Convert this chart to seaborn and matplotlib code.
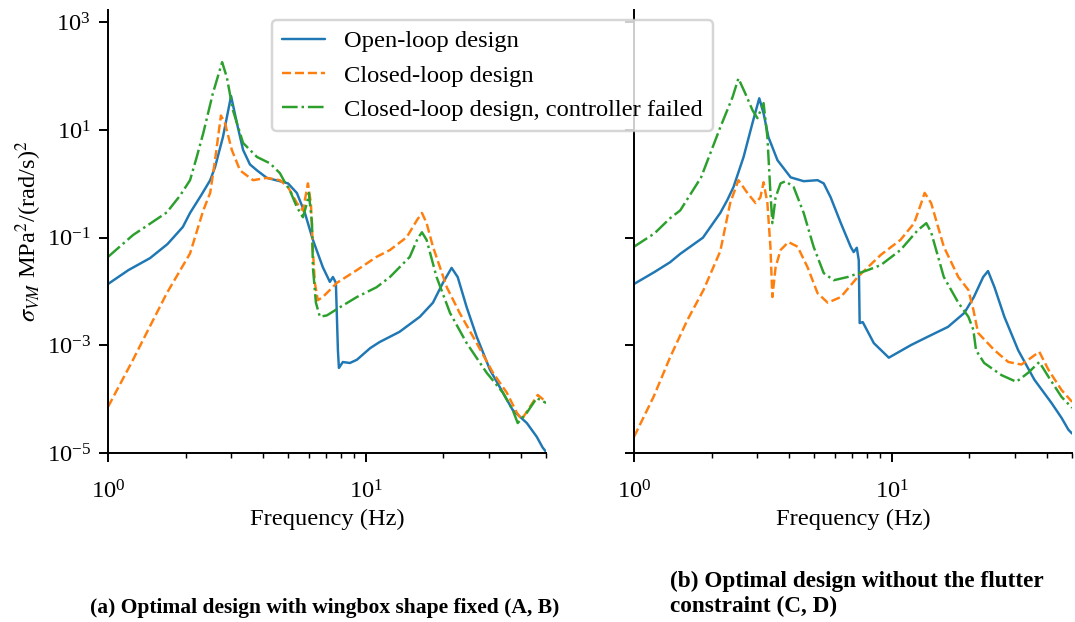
import numpy as np
import matplotlib
matplotlib.use("Agg")
import matplotlib.pyplot as plt
import matplotlib.ticker as mticker
import seaborn as sns

# ---- data (frequency in Hz, PSD in MPa^2/(rad/s)^2) ----
# (a) wingbox shape fixed
freq_a_open = [1.0, 1.2, 1.455, 1.7, 1.95, 2.08, 2.3, 2.49, 2.60, 2.79, 3.0, 3.16, 3.34,
               3.55, 3.78, 4.13, 4.64, 4.99, 5.40, 5.80, 6.23, 6.81, 7.25, 7.45, 7.65,
               7.79, 7.86, 8.14, 8.67, 9.23, 10.4, 11.3, 13.5, 16.2, 18.2, 19.9, 21.5,
               22.7, 24.6, 26.9, 30.3, 34.0, 37.1, 42.1, 46.0, 48.5, 50.0]
psd_a_open = [1.38e-2, 2.5e-2, 4.17e-2, 7.6e-2, 0.158, 0.288, 0.62, 1.17, 2.04, 7.4, 42.7,
              13.5, 4.27, 2.3, 1.78, 1.29, 1.12, 1.02, 0.676, 0.288, 0.0912, 0.0282,
              0.0151, 0.0186, 0.0145, 8.1e-4, 3.8e-4, 4.9e-4, 4.7e-4, 5.4e-4, 8.9e-4,
              1.15e-3, 1.78e-3, 3.4e-3, 6.2e-3, 1.45e-2, 2.75e-2, 1.86e-2, 5.1e-3,
              1.45e-3, 3.5e-4, 1.32e-4, 6.3e-5, 3.6e-5, 2.0e-5, 1.26e-5, 1.05e-5]

freq_a_closed = [1.0, 1.25, 1.45, 1.69, 2.08, 2.34, 2.49, 2.60, 2.74, 2.84, 3.02, 3.25,
                 3.65, 4.13, 4.64, 4.99, 5.40, 5.70, 5.96, 6.12, 6.23, 6.34, 6.51, 6.81,
                 7.72, 9.23, 11.0, 12.4, 14.4, 15.8, 16.5, 17.2, 18.2, 20.6, 23.1, 26.9,
                 31.1, 35.2, 38.5, 40.2, 42.5, 46.4, 50.0]
psd_a_closed = [7.2e-5, 5.4e-4, 2.2e-3, 9.3e-3, 5.1e-2, 0.32, 0.68, 2.75, 18.6, 13.5, 4.27,
                1.78, 1.17, 1.29, 1.17, 0.87, 0.44, 0.32, 1.02, 0.44, 0.059, 0.0145, 6.9e-3,
                7.9e-3, 0.0145, 0.025, 0.044, 0.059, 0.102, 0.214, 0.288, 0.186, 0.068,
                0.012, 4.0e-3, 1.10e-3, 3.1e-4, 1.32e-4, 5.6e-5, 4.2e-5, 6.3e-5, 1.20e-4,
                8.9e-5]

freq_a_failed = [1.0, 1.25, 1.45, 1.69, 1.9, 2.08, 2.21, 2.34, 2.55, 2.77, 2.89, 3.05,
                 3.34, 3.78, 4.25, 4.64, 4.85, 5.07, 5.40, 5.70, 5.91, 6.01, 6.18, 6.23,
                 6.40, 6.63, 7.06, 7.93, 9.23, 11.0, 12.4, 14.8, 15.9, 16.5, 17.2, 18.8,
                 21.2, 24.6, 29.4, 34.0, 37.1, 38.8, 42.1, 46.0, 50.0]
psd_a_failed = [0.044, 0.112, 0.18, 0.295, 0.6, 1.17, 3.2, 8.7, 47.9, 182.0, 95.0, 23.4,
                5.75, 3.16, 2.40, 1.58, 1.07, 0.76, 0.37, 0.24, 0.44, 0.68, 0.186, 0.0282,
                6.2e-3, 3.4e-3, 3.6e-3, 5.1e-3, 7.9e-3, 0.012, 0.0186, 0.044, 0.098, 0.126,
                0.091, 0.0186, 4.0e-3, 1.10e-3, 3.1e-4, 1.32e-4, 6.3e-5, 3.6e-5, 5.6e-5,
                1.05e-4, 8.5e-5]

# (b) without the flutter constraint
freq_b_open = [1.0, 1.2, 1.38, 1.51, 1.85, 2.16, 2.30, 2.43, 2.66, 2.88, 3.06, 3.18, 3.32,
               3.60, 4.05, 4.55, 5.15, 5.44, 5.79, 6.34, 6.92, 7.11, 7.31, 7.44, 7.50,
               7.71, 8.51, 9.73, 11.9, 13.8, 16.5, 19.1, 20.8, 22.6, 23.6, 25.0, 27.3,
               30.9, 35.7, 41.6, 45.5, 48.4, 50.0]
psd_b_open = [1.38e-2, 2.3e-2, 3.5e-2, 5.0e-2, 0.10, 0.288, 0.5, 0.87, 3.16, 13.5, 38.9,
              20.4, 7.4, 2.75, 1.32, 1.12, 1.17, 1.02, 0.56, 0.186, 0.068, 0.054, 0.065,
              0.038, 2.6e-3, 2.7e-3, 1.10e-3, 5.9e-4, 1.02e-3, 1.45e-3, 2.2e-3, 4.0e-3,
              7.9e-3, 0.0186, 0.024, 0.012, 3.4e-3, 8.1e-4, 2.3e-4, 8.5e-5, 4.5e-5,
              2.7e-5, 2.3e-5]

freq_b_closed = [1.0, 1.19, 1.38, 1.61, 1.86, 2.16, 2.36, 2.54, 2.75, 2.96, 3.09, 3.18,
                 3.29, 3.38, 3.44, 3.54, 3.70, 3.97, 4.31, 4.71, 5.15, 5.64, 6.34, 7.37,
                 9.06, 10.8, 12.2, 13.0, 13.4, 14.2, 15.9, 18.1, 19.8, 20.7, 21.6, 25.0,
                 28.3, 31.8, 34.7, 37.3, 40.5, 45.5, 50.0]
psd_b_closed = [2.0e-5, 1.10e-4, 6.0e-4, 2.95e-3, 1.07e-2, 5.6e-2, 0.44, 1.17, 0.68, 0.44,
                0.56, 1.07, 0.44, 0.068, 7.9e-3, 0.0282, 0.059, 0.083, 0.068, 0.0282,
                9.3e-3, 6.2e-3, 7.9e-3, 0.0186, 0.048, 0.091, 0.186, 0.44, 0.68, 0.44,
                0.068, 0.0186, 0.0107, 4.6e-3, 1.70e-3, 8.1e-4, 4.9e-4, 4.4e-4, 5.9e-4,
                7.6e-4, 3.5e-4, 1.48e-4, 8.9e-5]

freq_b_failed = [1.0, 1.2, 1.38, 1.51, 1.82, 2.16, 2.41, 2.54, 2.70, 2.88, 3.01, 3.18,
                 3.29, 3.38, 3.44, 3.54, 3.70, 3.87, 4.16, 4.55, 4.97, 5.44, 5.95, 6.74,
                 8.07, 9.06, 10.8, 12.6, 13.6, 14.2, 15.9, 18.1, 19.8, 20.7, 21.2, 22.8,
                 26.6, 30.4, 33.8, 37.3, 40.5, 45.5, 50.0]
psd_b_failed = [0.068, 0.12, 0.23, 0.32, 1.32, 11.2, 40.7, 91.0, 47.9, 23.4, 16.6, 31.6,
                7.4, 0.68, 0.186, 0.56, 1.02, 1.12, 0.87, 0.288, 0.068, 0.022, 0.0162,
                0.0186, 0.025, 0.031, 0.059, 0.138, 0.186, 0.126, 0.0186, 6.2e-3, 3.4e-3,
                1.95e-3, 8.1e-4, 4.7e-4, 2.8e-4, 2.1e-4, 3.1e-4, 4.9e-4, 2.6e-4, 1.10e-4,
                6.9e-5]

labels = ["Open-loop design", "Closed-loop design",
          "Closed-loop design, controller failed"]
captions = ["(a) Optimal design with wingbox shape fixed (A, B)",
            "(b) Optimal design without the flutter\nconstraint (C, D)"]

# ---- style ----
sns.set_style("ticks")
plt.rcParams["font.family"] = ["Liberation Serif", "DejaVu Serif"]
plt.rcParams["mathtext.fontset"] = "stix"
plt.rcParams["font.size"] = 10
for key in ["text.color", "axes.labelcolor", "xtick.color", "ytick.color",
            "axes.edgecolor"]:
    plt.rcParams[key] = "black"
plt.rcParams["xtick.major.size"] = 3.5
plt.rcParams["ytick.major.size"] = 3.5
plt.rcParams["xtick.minor.size"] = 2
plt.rcParams["xtick.major.pad"] = 7.5
plt.rcParams["xtick.minor.pad"] = 7.5
plt.rcParams["axes.linewidth"] = 0.8

colors = ["#1f77b4", "#ff7f0e", "#2ca02c"]
styles = ["-", "--", "-."]

fig = plt.figure(figsize=(1075 / 176, 622 / 176), dpi=176)
ax_a = fig.add_axes([0.1005, 0.2717, 0.4075, 0.7123])
ax_b = fig.add_axes([0.5898, 0.2717, 0.4075, 0.7123], sharey=ax_a)

panels = [
    (ax_a, [(freq_a_open, psd_a_open), (freq_a_closed, psd_a_closed),
            (freq_a_failed, psd_a_failed)]),
    (ax_b, [(freq_b_open, psd_b_open), (freq_b_closed, psd_b_closed),
            (freq_b_failed, psd_b_failed)]),
]

for ax, series in panels:
    for (f, p), lab, c, ls in zip(series, labels, colors, styles):
        sns.lineplot(x=f, y=p, ax=ax, color=c, linestyle=ls, linewidth=1.0,
                     label=lab, sort=False)
    if ax.get_legend() is not None:
        ax.get_legend().remove()
    ax.set_xscale("log")
    ax.set_yscale("log")
    ax.set_xlim(1, 50)
    ax.set_ylim(1e-5, 1.7e3)
    ax.set_yticks([1e-5, 1e-3, 1e-1, 1e1, 1e3])
    ax.yaxis.set_minor_locator(mticker.NullLocator())
    ax.set_xlabel("Frequency (Hz)", labelpad=2.4)
    sns.despine(ax=ax)

ax_a.set_ylabel(r"$\sigma_{VM}$ MPa$^2$/(rad/s)$^2$", labelpad=1)
ax_b.set_ylabel("")
ax_b.tick_params(axis="y", labelleft=False)

handles, labs = ax_a.get_legend_handles_labels()
fig.legend(handles, labs, loc="upper left", bbox_to_anchor=(0.242, 0.987),
           bbox_transform=fig.transFigure, frameon=True, fontsize=10,
           handlelength=1.75)

fig.text(0.302, 0.022, captions[0], ha="center", va="center",
         fontweight="bold", fontsize=8.8)
fig.text(0.623, 0.045, captions[1], ha="left", va="center",
         fontweight="bold", fontsize=9.5, linespacing=1.2)

fig.savefig("out.png", dpi=176)
